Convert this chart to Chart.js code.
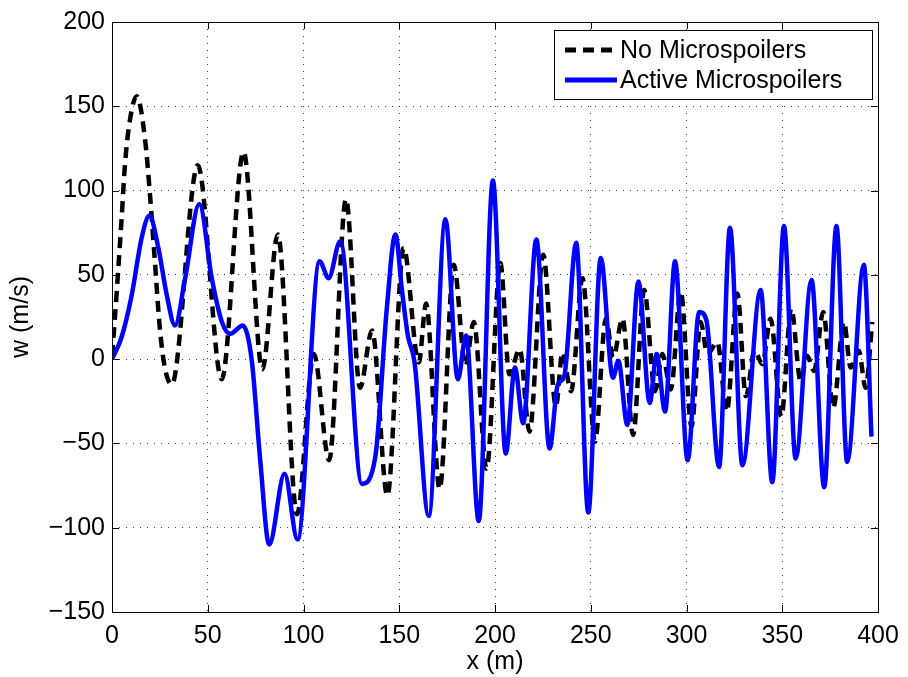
<!DOCTYPE html>
<html>
<head>
<meta charset="utf-8">
<script src="https://cdn.jsdelivr.net/npm/chart.js@4.4.1/dist/chart.umd.min.js"></script>
<style>
  html, body { margin: 0; padding: 0; background: #fff; }
  canvas { display: block; }
</style>
</head>
<body>
<canvas id="wChart" width="908" height="677"></canvas>
<script>
// No Microspoilers (dashed black)
const noSpoilerX = [0, 1.5, 3.3, 5, 6.8, 9.4, 12.9, 17.2, 19.8, 22.4, 25, 27.6, 31.2,
  44.8, 57.3, 68.7, 78.5, 86.6, 96.6, 105.4, 113.4, 122.2, 129.5, 135.8, 143.8,
  152.3, 160.2, 164, 171.1, 178.5, 184.6, 188.9, 195.6, 202.8, 207.5, 212.9, 218,
  225.2, 231.8, 235.2, 239.7, 245.7, 252.2, 257.9, 261.7, 266.6, 272.1, 277.9,
  283.6, 287.4, 291.8, 297, 302.6, 307.4, 310.9, 316.1, 321, 326.6, 331, 335.6,
  339.6, 343.9, 349.5, 354.7, 359.6, 363, 366.6, 371.4, 376.6, 382.2, 385.7, 390,
  393.5, 397];
const noSpoilerW = [2, 24, 54, 83, 116, 142, 156, 131, 98, 58, 18, -5, -15,
  115, -12, 123, -6, 74, -92, 3, -60, 95, -17, 17, -81,
  66, -2, 33, -77, 56, -4, 22, -65, 57, -9, 6, -43,
  62, -28, 4, -19, 48, -49, 24, 1, 24, -45, 41,
  -19, 3, -18, 40, -40, 22, 3, 10, -31, 39, -22, 5,
  -3, 24, -34, 30, -13, 2, -7, 28, -29, 22, -5, 5,
  -17, 22];

// Active Microspoilers (solid blue)
const activeX = [0, 5, 10.3, 15.5, 19.5, 24.2, 28.6, 32.9, 38.2, 45.6, 52.1, 57.4,
  61.7, 68.3, 73, 77.4, 82.1, 90.1, 96.9, 108.4, 113.1, 119.2, 130.5, 137.5,
  143.5, 148, 151.5, 154.5, 158, 165.4, 174.1, 180.6, 184.9, 191.5, 198.9, 205.6,
  210.4, 214.7, 221.6, 228.5, 232.8, 236.2, 242.4, 248.7, 255.2, 261.6, 264.4,
  269.1, 274.9, 280.8, 284.4, 288.8, 294, 300.6, 306.6, 310.4, 317, 322.7, 329.2,
  338.7, 344.8, 350.9, 357, 365.3, 371.9, 378.3, 383.9, 392.6, 396.6];
const activeW = [0, 13, 38, 72, 85, 66, 38, 20, 48, 92, 48, 22,
  15, 20, -1, -60, -110, -68, -107, 58, 48, 70, -74, -58,
  30, 74, 40, 14, -2, -93, 83, -12, 14, -96, 106, -56,
  -5, -38, 71, -53, -15, -10, 69, -91, 60, -11, -1,
  -39, 46, -26, 3, -31, 58, -60, 28, 23, -64, 78, -63,
  41, -73, 79, -59, 47, -76, 79, -61, 56, -46];

const xTicks = [0, 50, 100, 150, 200, 250, 300, 350, 400];
const yTicks = [-150, -100, -50, 0, 50, 100, 150, 200];

const FONT = '"Liberation Sans", Arial, Helvetica, sans-serif';
const FONT_SIZE = 25;

const toPoints = (xs, ys) => xs.map((x, i) => ({ x: x, y: ys[i] }));

// box around the plot with inward ticks on all four sides
const matlabBox = {
  id: 'matlabBox',
  afterDatasetsDraw(chart) {
    const ctx = chart.ctx, a = chart.chartArea;
    const xs = chart.scales.x, ys = chart.scales.y;
    const len = 7;
    ctx.save();
    ctx.strokeStyle = '#000';
    ctx.lineWidth = 1;
    ctx.setLineDash([]);
    ctx.beginPath();
    xTicks.forEach(v => {
      const px = Math.round(xs.getPixelForValue(v)) + 0.5;
      ctx.moveTo(px, a.bottom); ctx.lineTo(px, a.bottom - len);
      ctx.moveTo(px, a.top); ctx.lineTo(px, a.top + len);
    });
    yTicks.forEach(v => {
      const py = Math.round(ys.getPixelForValue(v)) + 0.5;
      ctx.moveTo(a.left, py); ctx.lineTo(a.left + len, py);
      ctx.moveTo(a.right, py); ctx.lineTo(a.right - len, py);
    });
    ctx.stroke();
    ctx.strokeRect(Math.round(a.left) + 0.5, Math.round(a.top) + 0.5,
      Math.round(a.right - a.left), Math.round(a.bottom - a.top));
    ctx.restore();
  }
};

// legend drawn inside the plot, top right
const legendBox = {
  id: 'legendBox',
  afterDraw(chart) {
    const ctx = chart.ctx, a = chart.chartArea;
    const x0 = Math.round(a.right) - 324, y0 = Math.round(a.top) + 8;
    const w = 318, h = 69;
    ctx.save();
    ctx.fillStyle = '#fff';
    ctx.fillRect(x0, y0, w, h);
    ctx.strokeStyle = '#000';
    ctx.lineWidth = 1;
    ctx.strokeRect(x0 + 0.5, y0 + 0.5, w, h);
    chart.data.datasets.forEach((ds, i) => {
      const y = y0 + 20 + i * 30;
      ctx.beginPath();
      ctx.setLineDash(ds.borderDash || []);
      ctx.strokeStyle = ds.borderColor;
      ctx.lineWidth = 5;
      ctx.moveTo(x0 + 11, y);
      ctx.lineTo(x0 + 63, y);
      ctx.stroke();
      ctx.setLineDash([]);
      ctx.fillStyle = '#000';
      ctx.font = FONT_SIZE + 'px ' + FONT;
      ctx.textBaseline = 'middle';
      ctx.textAlign = 'left';
      ctx.fillText(ds.label, x0 + 66, y + 1);
    });
    ctx.restore();
  }
};

const gridStyle = {
  color: 'rgba(0,0,0,0.75)',
  lineWidth: 1,
  drawTicks: false
};

new Chart(document.getElementById('wChart'), {
  type: 'line',
  data: {
    datasets: [{
      label: 'No Microspoilers',
      data: toPoints(noSpoilerX, noSpoilerW),
      borderColor: '#000000',
      borderWidth: 4.5,
      borderDash: [11, 7],
      cubicInterpolationMode: 'monotone',
      pointRadius: 0,
      fill: false,
      order: 2
    }, {
      label: 'Active Microspoilers',
      data: toPoints(activeX, activeW),
      borderColor: '#0000ff',
      borderWidth: 4.5,
      cubicInterpolationMode: 'monotone',
      pointRadius: 0,
      fill: false,
      order: 1
    }]
  },
  options: {
    responsive: false,
    devicePixelRatio: 1,
    animation: false,
    layout: { padding: { top: 20, right: 30, left: 0, bottom: 0 } },
    plugins: { legend: { display: false }, tooltip: { enabled: false } },
    scales: {
      x: {
        type: 'linear',
        min: 0, max: 400,
        afterBuildTicks: s => { s.ticks = xTicks.map(v => ({ value: v })); },
        afterFit: s => { s.height = 65; },
        grid: gridStyle,
        border: { display: false, dash: [1, 6] },
        ticks: { color: '#000', font: { family: FONT, size: FONT_SIZE }, padding: 9, maxRotation: 0 },
        title: { display: true, text: 'x (m)', color: '#000', font: { family: FONT, size: FONT_SIZE }, padding: { top: 3, bottom: 0 } }
      },
      y: {
        type: 'linear',
        min: -150, max: 200,
        afterBuildTicks: s => { s.ticks = yTicks.map(v => ({ value: v })); },
        afterFit: s => { s.width = 112; },
        grid: gridStyle,
        border: { display: false, dash: [1, 6] },
        ticks: { color: '#000', font: { family: FONT, size: FONT_SIZE }, padding: 7,
          callback: v => String(v).replace('-', '\u2212') },
        title: { display: true, text: 'w (m/s)', color: '#000', font: { family: FONT, size: FONT_SIZE }, padding: { top: 6, bottom: 0 } }
      }
    }
  },
  plugins: [matlabBox, legendBox]
});
</script>
</body>
</html>
